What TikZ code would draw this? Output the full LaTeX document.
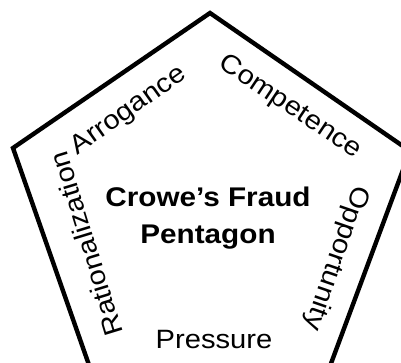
\documentclass[tikz,border=0pt]{standalone}
\usepackage{fontspec}
\setmainfont{Liberation Sans}[FakeStretch=1.1]
\usetikzlibrary{positioning}

\begin{document}
\begin{tikzpicture}[
        x=1pt, y=-1pt,
        edge/.style={line width=4.4pt, line join=miter},
        side/.style={inner sep=0pt, font=\fontsize{26.5}{30}\selectfont},
        title/.style={inner sep=0pt, align=center, font=\fontsize{27}{37}\selectfont\bfseries}
    ]
        \useasboundingbox (0,0) rectangle (401,362);
        \clip (0,0) rectangle (401,362);

        % Corners
        \coordinate (top) at (210,13);
        \coordinate (left) at (13,148);
        \coordinate (right) at (410,151);
        \coordinate (botleft) at (96,385);
        \coordinate (botright) at (323,385);

        % Pentagon
        \draw[edge] (top) -- (right) -- (botright) -- (botleft) -- (left) -- cycle;

        % Title
        \node[title] (penta) at (208,218) {Crowe’s Fraud\\Pentagon};

        % Elements
        \node[side, rotate=35.5] (arro) at (129,111) {Arrogance};
        \node[side, rotate=-33.7] (comp) at (290,107) {Competence};
        \node[side, rotate=107] (ratio) at (86,244) {Rationalization};
        \node[side, rotate=-109] (oppo) at (336,258) {Opportunity};
        \node[side, anchor=base] (press) at (214,348) {Pressure};

    \end{tikzpicture}
\end{document}
